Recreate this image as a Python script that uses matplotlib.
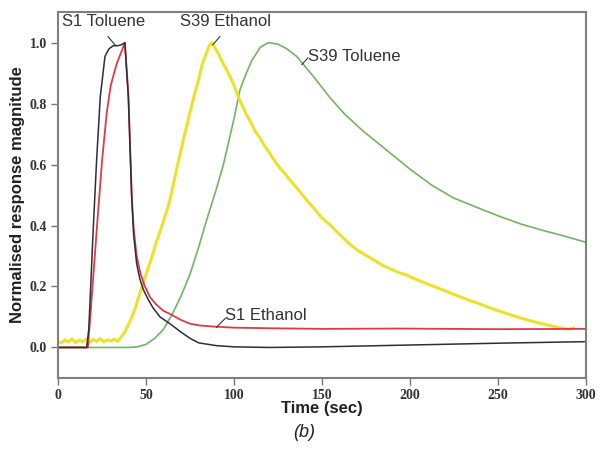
import matplotlib
matplotlib.use("Agg")
import matplotlib.pyplot as plt

# S1 Toluene (dark line)
s1_tol_t = [0, 10, 15, 16.3, 17.5, 20, 22, 24, 26.7, 29, 31.4, 34, 36, 38, 40, 41.9,
            43, 44.7, 46.5, 48.5, 51, 54, 58, 63.6, 70, 75, 80, 90, 100, 120, 150,
            200, 250, 300]
s1_tol_y = [0, 0, 0, 0.0, 0.06, 0.385, 0.62, 0.82, 0.955, 0.98, 0.99, 0.99, 0.993, 1.0,
            0.82, 0.49, 0.37, 0.275, 0.225, 0.19, 0.16, 0.13, 0.10, 0.078, 0.05, 0.03,
            0.015, 0.006, 0.002, 0.0, 0.002, 0.008, 0.014, 0.019]

# S1 Ethanol (red)
s1_eth_t = [0, 10, 16, 17, 19, 22, 25, 27.7, 30, 33.3, 36, 38, 40, 41.9, 43, 44.7,
            47, 49.4, 52.3, 56, 60, 63.6, 70, 75, 80.7, 90, 100, 120, 150, 194,
            250, 300]
s1_eth_y = [0, 0, 0, 0.0, 0.15, 0.385, 0.61, 0.77, 0.86, 0.93, 0.97, 1.0, 0.83, 0.5,
            0.39, 0.3, 0.24, 0.2, 0.165, 0.14, 0.12, 0.11, 0.09, 0.078, 0.072, 0.068,
            0.065, 0.063, 0.061, 0.062, 0.06, 0.061]

# S39 Ethanol (yellow, noisy trace)
s39_eth_t = [0, 2, 4, 6, 8, 10, 12, 14, 16, 18, 20, 22, 24, 26, 28, 30, 32, 34, 36,
             38, 40, 42, 44, 46.6, 50, 53, 55, 58, 60, 63, 65, 68, 72, 75, 78, 80,
             82, 84, 86, 87.3, 89, 91, 94, 97.7, 100, 103, 107, 110, 112, 115, 117,
             120, 122, 124, 126, 129, 131, 134, 136, 139, 141, 145, 147, 150, 155,
             158, 162, 166, 170, 175, 180, 185, 190, 194, 198, 200, 205, 210, 215,
             220, 225, 230, 235, 240, 245, 250, 255, 260, 265, 270, 275, 280, 285,
             290, 293]
s39_eth_y = [0.02, 0.015, 0.025, 0.018, 0.028, 0.016, 0.024, 0.019, 0.027, 0.017, 0.026,
             0.02, 0.029, 0.018, 0.025, 0.021, 0.027, 0.02, 0.035, 0.05, 0.075, 0.1,
             0.13, 0.18, 0.24, 0.29, 0.33, 0.38, 0.415, 0.47, 0.52, 0.6, 0.7, 0.77,
             0.84, 0.88, 0.93, 0.96, 0.99, 1.0, 0.985, 0.965, 0.93, 0.89, 0.86, 0.815,
             0.765, 0.735, 0.71, 0.685, 0.665, 0.64, 0.622, 0.605, 0.59, 0.57, 0.555,
             0.535, 0.522, 0.5, 0.485, 0.46, 0.445, 0.425, 0.40, 0.382, 0.36, 0.338,
             0.32, 0.302, 0.285, 0.268, 0.255, 0.245, 0.238, 0.232, 0.22, 0.208, 0.197,
             0.186, 0.174, 0.163, 0.152, 0.142, 0.131, 0.121, 0.111, 0.102, 0.093,
             0.085, 0.078, 0.071, 0.065, 0.06, 0.064]

# S39 Toluene (green)
s39_tol_t = [0, 20, 40, 45, 50, 55, 60, 65, 70, 75, 80, 83.5, 90, 94, 100, 103.4, 107,
             110, 115, 119.5, 125, 130, 135.6, 145, 154.5, 163, 173.4, 183, 200,
             213, 225, 240, 251, 263, 275, 288, 300]
s39_tol_y = [0, 0, 0, 0.002, 0.01, 0.03, 0.06, 0.11, 0.17, 0.24, 0.33, 0.40, 0.52,
             0.60, 0.75, 0.845, 0.9, 0.94, 0.985, 1.0, 0.995, 0.98, 0.955, 0.89,
             0.82, 0.765, 0.71, 0.665, 0.585, 0.53, 0.49, 0.455, 0.43, 0.405, 0.385,
             0.365, 0.345]

x_ticks = [0, 50, 100, 150, 200, 250, 300]
y_ticks = [0.0, 0.2, 0.4, 0.6, 0.8, 1.0]
y_tick_labels = ["0.0", "0.2", "0.4", "0.6", "0.8", "1.0"]

fig = plt.figure(figsize=(5.99, 4.51), dpi=100)
ax = fig.add_axes([0.0968, 0.162, 0.8814, 0.811])

ax.plot(s39_tol_t, s39_tol_y, color="#72b562", lw=1.2)
ax.plot(s39_eth_t, s39_eth_y, color="#ece22a", lw=2.2, solid_joinstyle="round")
ax.plot(s1_eth_t, s1_eth_y, color="#e0394a", lw=1.3)
ax.plot(s1_tol_t, s1_tol_y, color="#2e2e3a", lw=1.1)

ax.set_xlim(0, 300)
ax.set_ylim(-0.1, 1.1)
ax.set_xticks(x_ticks)
ax.set_yticks(y_ticks)
ax.set_yticklabels(y_tick_labels)

tick_font = dict(family="Liberation Serif", weight="bold", size=10)
for lab in ax.get_xticklabels() + ax.get_yticklabels():
    lab.set_fontfamily(tick_font["family"])
    lab.set_fontweight(tick_font["weight"])
    lab.set_fontsize(tick_font["size"])
    lab.set_color("#333333")
ax.tick_params(direction="out", length=5, width=1, color="#777777", pad=3)

for sp in ax.spines.values():
    sp.set_color("#808080")
    sp.set_linewidth(1.5)

lab_font = dict(family="Liberation Sans", weight="bold", size=12, color="#222222")
ax.set_xlabel("Time (sec)", labelpad=-1, **lab_font)
ax.set_ylabel("Normalised response magnitude", labelpad=3, **lab_font)

ann = dict(family="Liberation Sans", size=12, color="#333333")
ax.text(2.3, 1.069, "S1 Toluene", va="center", ha="left", **ann)
ax.text(69.3, 1.069, "S39 Ethanol", va="center", ha="left", **ann)
ax.text(142, 0.954, "S39 Toluene", va="center", ha="left", **ann)
ax.text(95, 0.105, "S1 Ethanol", va="center", ha="left", **ann)

lead = dict(color="#333333", lw=0.8)
ax.plot([28.4, 32.4], [1.02, 0.993], **lead)
ax.plot([92, 88], [1.02, 0.993], **lead)
ax.plot([142, 138.6], [0.95, 0.928], **lead)
ax.plot([95, 90], [0.095, 0.066], **lead)

fig.text(0.507, 0.042, "(b)", ha="center", va="center", style="italic",
         family="Liberation Sans", size=13, color="#222222")

fig.savefig("out.png", dpi=100)
